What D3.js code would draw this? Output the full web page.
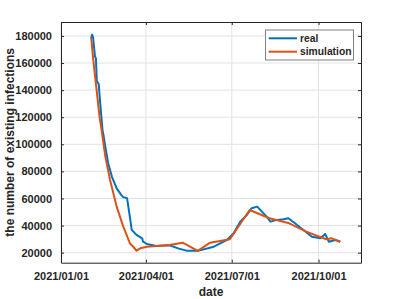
<!DOCTYPE html>
<html>
<head>
<meta charset="utf-8">
<script src="https://cdn.jsdelivr.net/npm/d3@7"></script>
<style>
  body { margin: 0; background: #fff; }
  text { font-family: "Liberation Sans", Arial, sans-serif; font-weight: bold; fill: #262626; }
</style>
</head>
<body>
<div id="chart"></div>
<script>
// real data
var realDates = ["2021-02-02","2021-02-03","2021-02-04","2021-02-06","2021-02-07","2021-02-08","2021-02-10",
  "2021-02-11","2021-02-14","2021-02-15","2021-02-17","2021-02-20","2021-02-24","2021-03-01","2021-03-06",
  "2021-03-08","2021-03-12","2021-03-15","2021-03-17","2021-03-22","2021-03-28","2021-03-29","2021-04-02",
  "2021-04-12","2021-04-26","2021-05-06","2021-05-14","2021-05-27","2021-06-12","2021-06-26","2021-07-03",
  "2021-07-10","2021-07-17","2021-07-22","2021-07-28","2021-08-02","2021-08-07","2021-08-11","2021-08-18",
  "2021-08-25","2021-08-30","2021-09-06","2021-09-15","2021-09-24","2021-10-03","2021-10-08","2021-10-12",
  "2021-10-19","2021-10-24"];
var realValues = [178500,181000,179000,165000,163500,146500,144500,
  135000,110500,107000,98000,86000,76000,67500,62500,
  61000,60200,46500,36800,33100,30600,28100,26400,
  25000,25500,23000,21500,21500,24400,29400,34300,
  42900,47800,52800,54000,50300,46600,42900,44200,
  44700,45400,41700,36800,31800,30600,33800,28100,
  29400,28100];

// simulation
var simDates = ["2021-02-02","2021-02-04","2021-02-11","2021-02-13","2021-02-17","2021-02-22","2021-03-01",
  "2021-03-08","2021-03-15","2021-03-19","2021-03-22","2021-03-26","2021-04-02","2021-04-26","2021-05-10",
  "2021-05-26","2021-06-08","2021-06-29","2021-07-20","2021-08-10","2021-08-31","2021-09-18","2021-10-09",
  "2021-10-15","2021-10-24"];
var simValues = [179000,163600,119500,110600,90900,73700,54000,
  39200,27000,24000,21500,23200,24400,25700,27400,
  21300,27400,29900,51500,45400,41700,35500,29900,
  30600,28100];

var xTicks = ["2021-01-01","2021-04-01","2021-07-01","2021-10-01"];
var yTicks = [20000,40000,60000,80000,100000,120000,140000,160000,180000];

var parse = d3.timeParse("%Y-%m-%d");
var fmt = d3.timeFormat("%Y/%m/%d");

var real = realDates.map(function(d, i) { return { date: parse(d), value: realValues[i] }; });
var sim = simDates.map(function(d, i) { return { date: parse(d), value: simValues[i] }; });

var width = 399, height = 299;
var pLeft = 61, pRight = 361, pTop = 22, pBottom = 262.7;

var svg = d3.select("#chart").append("svg")
  .attr("width", width)
  .attr("height", height);

var x = d3.scaleTime()
  .domain([parse("2021-01-01"), parse("2021-11-15")])
  .range([pLeft, pRight]);

var y = d3.scaleLinear()
  .domain([12600, 190300])
  .range([pBottom, pTop]);

// grid
svg.append("g").selectAll("line")
  .data(xTicks.map(parse))
  .enter().append("line")
  .attr("x1", function(d) { return x(d); })
  .attr("x2", function(d) { return x(d); })
  .attr("y1", pTop).attr("y2", pBottom)
  .attr("stroke", "#e3e3e3").attr("stroke-width", 1);

svg.append("g").selectAll("line")
  .data(yTicks)
  .enter().append("line")
  .attr("y1", function(d) { return y(d); })
  .attr("y2", function(d) { return y(d); })
  .attr("x1", pLeft).attr("x2", pRight)
  .attr("stroke", "#e3e3e3").attr("stroke-width", 1);

// axes (MATLAB style, ticks inward, box)
var tickLen = 3;
var xAxis = d3.axisBottom(x).tickValues(xTicks.map(parse)).tickFormat(fmt)
  .tickSizeInner(-tickLen).tickSizeOuter(0).tickPadding(10);
var yAxis = d3.axisLeft(y).tickValues(yTicks).tickFormat(d3.format("d"))
  .tickSizeInner(-tickLen).tickSizeOuter(0).tickPadding(9);

var gx = svg.append("g").attr("transform", "translate(0," + pBottom + ")").call(xAxis);
var gy = svg.append("g").attr("transform", "translate(" + pLeft + ",0)").call(yAxis);
var gxTop = svg.append("g").attr("transform", "translate(0," + pTop + ")")
  .call(d3.axisTop(x).tickValues(xTicks.map(parse)).tickFormat("").tickSizeInner(-tickLen).tickSizeOuter(0));
var gyRight = svg.append("g").attr("transform", "translate(" + pRight + ",0)")
  .call(d3.axisRight(y).tickValues(yTicks).tickFormat("").tickSizeInner(-tickLen).tickSizeOuter(0));

[gx, gy, gxTop, gyRight].forEach(function(g) {
  g.select(".domain").attr("stroke", "#262626").attr("stroke-width", 1);
  g.selectAll(".tick line").attr("stroke", "#262626");
  g.selectAll("text").attr("font-size", 11).attr("font-family", "Liberation Sans, Arial, sans-serif")
    .attr("font-weight", "bold").attr("fill", "#262626");
});

// lines
var line = d3.line()
  .x(function(d) { return x(d.date); })
  .y(function(d) { return y(d.value); });

svg.append("path").datum(real)
  .attr("d", line)
  .attr("fill", "none")
  .attr("stroke", "#0072BD")
  .attr("stroke-width", 2)
  .attr("stroke-linejoin", "round");

svg.append("path").datum(sim)
  .attr("d", line)
  .attr("fill", "none")
  .attr("stroke", "#D95319")
  .attr("stroke-width", 2)
  .attr("stroke-linejoin", "round");

// axis labels
svg.append("text")
  .attr("x", (pLeft + pRight) / 2)
  .attr("y", 296)
  .attr("text-anchor", "middle")
  .attr("font-size", 12)
  .text("date");

svg.append("text")
  .attr("transform", "translate(14," + ((pTop + pBottom) / 2) + ") rotate(-90)")
  .attr("text-anchor", "middle")
  .attr("font-size", 12)
  .text("the number of existing infections");

// legend
var legend = svg.append("g");
legend.append("rect")
  .attr("x", 265.5).attr("y", 30)
  .attr("width", 88).attr("height", 30)
  .attr("fill", "#fff")
  .attr("stroke", "#7f7f7f").attr("stroke-width", 1);

var legendItems = [
  { name: "real", color: "#0072BD" },
  { name: "simulation", color: "#D95319" }
];
legend.selectAll("g")
  .data(legendItems)
  .enter().append("g")
  .each(function(d, i) {
    var g = d3.select(this);
    var ly = 38.3 + i * 13.4;
    g.append("line")
      .attr("x1", 268.7).attr("x2", 297)
      .attr("y1", ly).attr("y2", ly)
      .attr("stroke", d.color).attr("stroke-width", 2);
    g.append("text")
      .attr("x", 300).attr("y", ly + 3.7)
      .attr("font-size", 10.3)
      .text(d.name);
  });
</script>
</body>
</html>
